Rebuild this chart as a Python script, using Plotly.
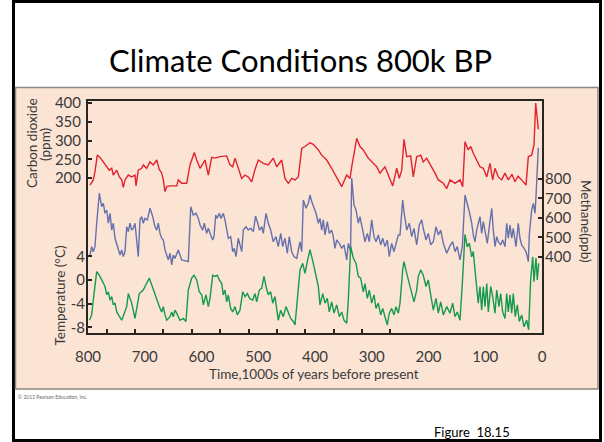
import plotly.graph_objects as go

# ---------------- data ----------------
# time in thousands of years before present
co2_t = [796.5, 790.7, 787.7, 783.6, 778.9, 773.0, 767.0, 762.5, 758.2, 755.4,
         749.4, 744.8, 740.6, 737.8, 734.8, 729.0, 723.0, 717.2, 715.4, 711.4,
         705.4, 702.6, 696.6, 690.7, 684.9, 678.9, 674.4, 670.1, 667.3, 664.3,
         661.3, 655.5, 643.7, 640.9, 634.9, 626.1, 620.3, 612.7, 608.5, 602.6,
         593.8, 588.0, 582.0, 576.2, 567.4, 555.6, 549.8, 545.0, 540.9, 535.2,
         529.2, 523.3, 517.5, 511.5, 505.7, 499.9, 491.1, 482.3, 473.5, 467.5,
         458.7, 452.9, 447.0, 441.1, 435.2, 429.4, 423.4, 417.6, 408.8, 403.0,
         394.2, 388.2, 379.4, 370.6, 361.8, 353.0, 344.1, 338.3, 335.3, 326.5,
         320.7, 314.9, 306.1, 300.1, 291.3, 285.5, 276.7, 270.8, 263.1, 256.0,
         251.5, 247.2, 243.2, 238.4, 231.4, 226.8, 220.8, 213.7, 209.2, 203.2,
         194.4, 188.5, 182.7, 173.9, 167.9, 162.1, 153.3, 144.5, 139.7, 135.7,
         129.9, 125.6, 121.1, 115.1, 109.3, 103.4, 97.4, 91.6, 86.9, 82.8,
         77.0, 71.0, 65.2, 59.4, 52.9, 47.6, 42.3, 35.8, 28.2, 24.1,
         18.2, 14.1, 11.1, 6.5]
co2_ppm = [181, 195, 217, 261, 255, 243, 230, 221, 226, 208,
           221, 203, 195, 175, 195, 208, 203, 208, 179, 221,
           226, 235, 226, 243, 235, 248, 223, 213, 195, 164,
           177, 179, 179, 195, 186, 186, 235, 268, 248, 226,
           248, 208, 255, 253, 257, 259, 235, 230, 253, 226,
           199, 208, 203, 190, 223, 248, 239, 235, 253, 230,
           248, 199, 186, 199, 195, 203, 279, 284, 294, 290,
           275, 261, 248, 226, 203, 177, 208, 199, 230, 306,
           284, 275, 253, 243, 230, 213, 230, 208, 179, 226,
           199, 221, 303, 257, 259, 203, 257, 261, 243, 253,
           230, 213, 195, 186, 172, 195, 186, 195, 177, 297,
           275, 284, 266, 248, 230, 226, 203, 239, 195, 226,
           203, 195, 213, 195, 210, 190, 205, 195, 181, 257,
           261, 288, 400, 330]

ch4_t = [796.5, 793.5, 790.7, 787.7, 784.7, 780.1, 775.9, 773.0, 770.0, 767.0,
         764.2, 761.2, 758.2, 755.4, 752.4, 749.4, 746.6, 743.6, 740.6, 737.8,
         734.8, 731.8, 729.0, 726.0, 723.0, 720.2, 717.2, 714.2, 711.4, 708.4,
         705.4, 702.6, 699.6, 695.5, 690.7, 686.0, 681.9, 678.9, 676.1, 673.1,
         670.1, 667.3, 664.3, 661.3, 658.5, 655.5, 652.5, 649.7, 646.7, 640.9,
         634.9, 623.3, 619.0, 614.4, 609.7, 605.6, 602.6, 597.9, 595.1, 590.8,
         588.0, 583.8, 580.3, 578.0, 575.0, 572.2, 568.6, 565.6, 561.6, 558.6,
         555.6, 552.8, 548.6, 545.0, 542.2, 539.2, 535.2, 529.2, 526.3, 521.6,
         517.5, 513.3, 508.7, 504.8, 500.9, 497.7, 493.9, 491.1, 486.3, 482.3,
         478.1, 473.5, 468.7, 464.7, 460.4, 456.9, 452.9, 448.8, 445.3, 441.1,
         437.0, 432.2, 426.4, 423.4, 420.6, 415.9, 411.8, 408.8, 405.8, 403.0,
         398.2, 394.1, 391.2, 388.2, 385.4, 382.4, 378.3, 374.8, 370.6, 367.8,
         364.8, 361.8, 357.2, 353.0, 348.9, 344.1, 341.3, 337.4, 335.3, 331.3,
         327.7, 323.7, 320.7, 316.0, 311.9, 307.8, 304.3, 300.1, 296.0, 292.5,
         288.4, 284.2, 280.7, 276.7, 272.6, 269.1, 264.9, 260.8, 257.3, 253.2,
         250.2, 245.5, 243.2, 238.4, 233.8, 229.6, 225.6, 220.8, 216.2, 212.0,
         209.2, 204.4, 200.4, 196.1, 191.5, 186.8, 182.7, 178.5, 173.9, 167.9,
         162.1, 157.4, 153.3, 149.3, 144.5, 140.4, 135.7, 131.7, 128.1, 123.9,
         121.1, 118.1, 115.1, 109.3, 106.3, 103.4, 100.4, 96.4, 92.9, 88.6,
         85.8, 82.8, 79.8, 77.0, 72.8, 69.3, 65.2, 62.2, 59.4, 56.4,
         53.4, 50.6, 45.8, 41.8, 38.8, 35.8, 31.7, 28.2, 25.9, 24.1,
         22.4, 18.2, 15.3, 12.3, 10.6, 6.5]
ch4_ppb = [410, 453, 427, 453, 573, 727, 658, 675, 624, 641,
           573, 624, 538, 573, 496, 462, 436, 410, 436, 402,
           427, 555, 530, 573, 538, 547, 573, 487, 402, 590,
           607, 573, 598, 590, 650, 607, 555, 538, 573, 521,
           496, 487, 436, 410, 385, 419, 359, 410, 393, 436,
           385, 376, 658, 615, 624, 598, 564, 538, 573, 521,
           547, 513, 487, 504, 615, 598, 624, 598, 624, 590,
           538, 496, 504, 427, 444, 402, 496, 427, 538, 555,
           538, 547, 530, 610, 573, 538, 555, 521, 624, 573,
           538, 478, 504, 453, 521, 453, 496, 419, 504, 427,
           402, 393, 478, 427, 692, 650, 675, 718, 684, 658,
           624, 573, 598, 538, 590, 513, 581, 521, 538, 504,
           444, 487, 470, 444, 462, 385, 470, 430, 805, 667,
           641, 573, 607, 538, 478, 521, 478, 590, 504, 478,
           513, 462, 496, 453, 487, 402, 470, 427, 462, 513,
           513, 692, 632, 538, 573, 504, 547, 462, 564, 590,
           547, 487, 521, 462, 478, 555, 513, 538, 470, 419,
           458, 478, 427, 453, 385, 453, 718, 675, 632, 573,
           513, 478, 538, 607, 521, 581, 538, 470, 555, 650,
           538, 453, 504, 478, 462, 487, 453, 573, 496, 564,
           496, 547, 453, 573, 496, 462, 444, 427, 402, 376,
           513, 641, 675, 624, 709, 960]

temp_t = [797.4, 793.5, 790.7, 787.7, 784.7, 780.1, 775.9, 773.0, 770.0, 767.0,
          764.2, 761.2, 758.2, 755.4, 752.4, 749.4, 743.6, 740.6, 731.8, 729.0,
          726.0, 723.0, 717.2, 713.1, 709.6, 702.6, 692.0, 687.8, 683.7, 678.9,
          676.1, 673.1, 670.1, 667.3, 664.3, 661.3, 655.5, 652.5, 649.7, 646.7,
          643.7, 637.9, 632.1, 627.3, 623.3, 617.3, 613.2, 608.5, 603.9, 599.6,
          596.8, 592.1, 588.0, 585.0, 580.3, 576.2, 572.2, 568.6, 564.4, 561.6,
          558.6, 555.6, 552.8, 548.6, 545.0, 541.0, 536.9, 532.2, 527.4, 523.3,
          519.3, 514.5, 509.8, 505.7, 502.7, 498.2, 493.9, 489.9, 486.3, 482.3,
          478.1, 474.5, 470.5, 467.5, 464.7, 460.4, 455.9, 451.1, 447.0, 442.8,
          438.2, 435.2, 431.2, 426.4, 421.7, 417.6, 413.6, 408.8, 403.0, 398.2,
          394.1, 391.2, 386.4, 382.4, 378.3, 374.8, 370.6, 366.5, 361.8, 357.2,
          353.0, 348.9, 344.1, 341.3, 337.1, 332.5, 327.7, 323.7, 319.5, 314.9,
          311.9, 307.8, 304.3, 300.1, 296.0, 292.5, 288.4, 284.2, 280.7, 276.7,
          272.6, 269.1, 264.9, 260.8, 257.3, 253.2, 250.2, 245.5, 243.2, 238.4,
          233.8, 229.6, 225.6, 220.8, 218.0, 213.7, 209.2, 204.4, 200.4, 196.1,
          191.5, 186.8, 182.7, 178.5, 173.9, 167.9, 162.1, 157.4, 153.3, 149.3,
          144.5, 140.4, 135.7, 131.7, 128.1, 123.9, 121.1, 118.1, 115.1, 112.3,
          109.3, 106.3, 103.4, 100.4, 97.4, 94.6, 90.4, 86.9, 82.8, 79.8,
          75.8, 72.8, 69.3, 65.2, 62.2, 59.4, 56.4, 53.4, 50.6, 47.1,
          43.5, 40.0, 35.8, 31.7, 27.0, 23.5, 20.0, 16.4, 14.1, 10.6,
          8.3, 5.8]
temp_c = [-6.8, -5.9, -3.4, -1.1, 1.4, 0.8, 0.0, -0.6, -1.1, -2.5,
          -2.0, -3.4, -2.8, -4.2, -3.9, -5.4, -6.2, -6.8, -4.5, -2.3,
          -3.1, -3.9, -6.5, -4.5, -2.3, -1.7, 0.3, -0.8, -2.0, -3.1,
          -3.9, -4.8, -5.4, -4.5, -5.9, -6.8, -6.2, -5.4, -6.2, -5.1,
          -5.6, -6.8, -6.5, -7.0, -1.7, 0.3, 0.8, 0.0, -2.0, -2.5,
          -4.2, -2.5, -4.5, -3.1, 0.8, 0.6, 0.8, 0.0, -0.6, -2.5,
          -1.7, -3.7, -2.5, -4.8, -5.4, -4.5, -5.9, -5.1, -2.0, -2.8,
          -2.3, -3.2, -3.4, -2.3, -3.7, -1.7, -1.4, 0.6, -1.1, -2.5,
          -2.0, -3.9, -2.8, -5.4, -6.8, -5.1, -6.2, -4.5, -5.6, -6.5,
          -7.0, -7.6, -3.4, 1.7, 2.8, 1.1, 3.1, 5.1, 2.8, 0.6,
          -1.1, -4.2, -2.3, -3.9, -3.1, -5.4, -3.7, -5.6, -4.2, -6.2,
          -5.4, -6.8, -7.3, -3.4, 5.6, 3.7, 2.8, 0.6, 0.3, -2.0,
          -0.6, -3.1, -1.7, -3.9, -2.5, -4.8, -3.9, -5.9, -4.8, -6.2,
          -7.6, -5.6, -4.8, -5.9, -4.5, -5.6, -3.9, 1.7, 3.1, 1.1,
          -0.6, -2.3, -3.7, -1.7, 0.6, 1.7, 0.8, -1.1, 0.0, -2.5,
          -5.1, -3.1, -5.6, -3.7, -5.9, -4.5, -5.6, -3.9, -6.2, -5.4,
          -6.8, -0.6, 7.7, 5.6, 6.2, 3.9, 4.8, 1.7, -1.1, -3.9,
          -1.1, -5.1, -1.1, -4.5, -0.6, -5.4, -1.1, -2.8, -5.6, -1.7,
          -4.5, -2.3, -5.4, -6.5, -2.3, -5.4, -2.5, -5.6, -2.3, -6.2,
          -4.2, -7.0, -5.9, -7.9, -6.8, -8.4, 0.0, 3.9, -0.3, 3.7,
          0.0, 2.8]

x_ticks = [800, 700, 600, 500, 400, 300, 200, 100, 0]
x_minor_ticks = [767, 717, 667, 617, 567, 517, 467, 417, 367, 317, 267]
co2_ticks = [200, 250, 300, 350, 400]
ch4_ticks = [400, 500, 600, 700, 800]
temp_ticks = [-8, -4, 0, 4]
temp_ticktext = ["-8", "-4", "0", "4"]

# ---------------- style ----------------
PEACH = "#FCE4D5"
FRAME = "#2b2522"
TICKFONT = dict(family="Lato, sans-serif", size=15, color="#3a3a3a")
LABELFONT = dict(family="Lato, sans-serif", size=13.5, color="#3a3a3a")

W, H = 604, 442
ML, MR, MT, MB = 88, 62, 101, 109
PW, PH = W - ML - MR, H - MT - MB


def px(x):
    return (x - ML) / PW


def py(y):
    return (H - MB - y) / PH


fig = go.Figure()
fig.add_trace(go.Scatter(x=co2_t, y=co2_ppm, mode="lines", name="CO2",
                         line=dict(color="#E1222F", width=1.4), yaxis="y"))
fig.add_trace(go.Scatter(x=ch4_t, y=ch4_ppb, mode="lines", name="CH4",
                         line=dict(color="#6571AD", width=1.4), yaxis="y2"))
fig.add_trace(go.Scatter(x=temp_t, y=temp_c, mode="lines", name="Temp",
                         line=dict(color="#159A4C", width=1.4), yaxis="y3"))

fig.update_layout(
    width=W, height=H,
    margin=dict(l=ML, r=MR, t=MT, b=MB, autoexpand=False),
    paper_bgcolor="white", plot_bgcolor=PEACH,
    showlegend=False,
    xaxis=dict(range=[800, 0], tickvals=x_ticks, ticks="", showgrid=False,
               zeroline=False, showline=True, mirror=True, linecolor=FRAME,
               linewidth=2, tickfont=TICKFONT, ticklabelstandoff=9,
               minor=dict(tickmode="array", tickvals=x_minor_ticks,
                          ticks="inside", ticklen=4, tickwidth=1.5,
                          tickcolor=FRAME, showgrid=False)),
    yaxis=dict(range=[-213, 405.3], tickvals=co2_ticks, ticks="inside",
               ticklen=4, tickwidth=1.5, tickcolor=FRAME, showgrid=False,
               zeroline=False, showline=True, mirror=True, linecolor=FRAME,
               linewidth=2, tickfont=TICKFONT, ticklabelstandoff=2),
    yaxis2=dict(range=[10, 1200], tickvals=ch4_ticks, overlaying="y",
                side="right", ticks="inside", ticklen=4, tickwidth=1.5,
                tickcolor=FRAME, showgrid=False, zeroline=False,
                showline=False, tickfont=TICKFONT, ticklabelstandoff=2),
    yaxis3=dict(range=[-8.95, 30.2], tickvals=temp_ticks,
                ticktext=temp_ticktext, overlaying="y", side="left",
                ticks="inside", ticklen=4, tickwidth=1.5, tickcolor=FRAME,
                showgrid=False, zeroline=False, showline=False,
                tickfont=TICKFONT, ticklabelstandoff=2),
)

# slide frame and figure panel
fig.add_shape(type="rect", xref="paper", yref="paper", layer="below",
              x0=px(13.5), x1=px(600.5), y0=py(440.5), y1=py(1.5),
              line=dict(color="black", width=3), fillcolor="white")
fig.add_shape(type="rect", xref="paper", yref="paper", layer="below",
              x0=px(15.5), x1=px(598), y0=py(389), y1=py(87.5),
              line=dict(color="#8c8580", width=1.5), fillcolor=PEACH)

ann = [
    dict(text="Climate Conditions 800k BP", x=px(300), y=py(60),
         font=dict(family="Lato, sans-serif", size=31, color="black")),
    dict(text="Carbon dioxide", x=px(32), y=py(143), textangle=-90,
         font=LABELFONT),
    dict(text="(ppm)", x=px(45), y=py(145), textangle=-90, font=LABELFONT),
    dict(text="Temperature (°C)", x=px(59.5), y=py(296), textangle=-90,
         font=LABELFONT),
    dict(text="Methane(ppb)", x=px(586), y=py(221), textangle=90,
         font=LABELFONT),
    dict(text="Time,1000s of years before present", x=px(314), y=py(373.5),
         font=LABELFONT),
    dict(text="Figure\u00a0 18.15", x=px(471.5), y=py(432),
         font=dict(family="Lato, sans-serif", size=13, color="black")),
    dict(text="\u00a9 2012 Pearson Education, Inc.", x=px(16), y=py(397),
         xanchor="left", font=dict(family="Lato, sans-serif", size=5,
                                   color="#666666")),
]
for a in ann:
    base = dict(xref="paper", yref="paper", showarrow=False,
                xanchor="center", yanchor="middle")
    base.update(a)
    fig.add_annotation(**base)

fig.write_html("out.html")
